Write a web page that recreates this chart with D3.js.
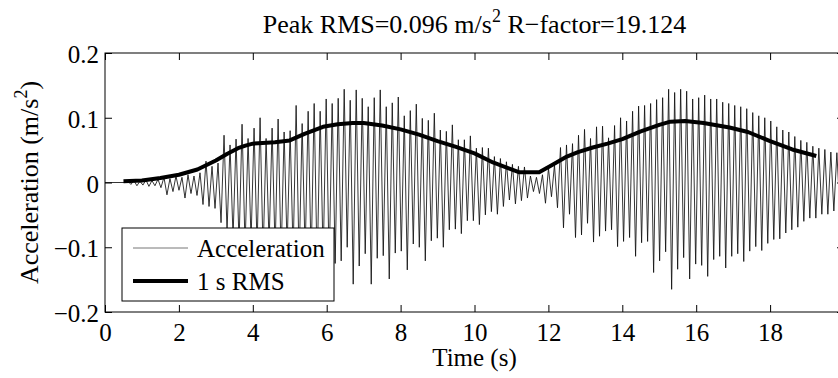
<!DOCTYPE html>
<html>
<head>
<meta charset="utf-8">
<script src="https://d3js.org/d3.v7.min.js"></script>
<style>
  body { margin: 0; background: #fff; }
  text { font-family: "Liberation Serif", "Times New Roman", serif; }
</style>
</head>
<body>
<svg id="chart" width="838" height="378"></svg>
<script>
// tick labels
var xTicks = [0, 2, 4, 6, 8, 10, 12, 14, 16, 18];
var xTickLabels = ["0", "2", "4", "6", "8", "10", "12", "14", "16", "18"];
var yTicks = [-0.2, -0.1, 0, 0.1, 0.2];
var yTickLabels = ["\u22120.2", "\u22120.1", "0", "0.1", "0.2"];

// acceleration: one positive and one negative peak per cycle
var accStart = 0.62;      // s, first cycle
var accPeriod = 0.1626;   // s, cycle length
var posPeaks = [
  0.002, 0.003, 0.002, 0.004, 0.003, 0.005, 0.008, 0.006, 0.010, 0.008,
  0.012, 0.010, 0.015, 0.033, 0.025, 0.030, 0.073, 0.058, 0.067, 0.090,
  0.068, 0.084, 0.100, 0.068, 0.084, 0.098, 0.078, 0.080, 0.119, 0.091,
  0.110, 0.122, 0.110, 0.129, 0.122, 0.130, 0.144, 0.127, 0.143, 0.130,
  0.117, 0.131, 0.143, 0.117, 0.123, 0.132, 0.103, 0.111, 0.121, 0.099,
  0.096, 0.107, 0.081, 0.079, 0.089, 0.066, 0.066, 0.072, 0.053, 0.054,
  0.053, 0.040, 0.037, 0.032, 0.028, 0.025, 0.024, 0.010, 0.008, 0.012,
  0.022, 0.027, 0.054, 0.058, 0.060, 0.073, 0.082, 0.068, 0.086, 0.087,
  0.069, 0.088, 0.100, 0.095, 0.110, 0.118, 0.119, 0.122, 0.128, 0.131,
  0.144, 0.139, 0.144, 0.141, 0.129, 0.131, 0.135, 0.129, 0.129, 0.124,
  0.122, 0.119, 0.117, 0.114, 0.108, 0.103, 0.100, 0.095, 0.086, 0.081,
  0.078, 0.071, 0.065, 0.062, 0.056, 0.053, 0.051, 0.047, 0.046
];
var negPeaks = [
  -0.003, -0.005, -0.004, -0.006, -0.005, -0.008, -0.019, -0.014, -0.012, -0.024,
  -0.017, -0.020, -0.034, -0.037, -0.040, -0.062, -0.075, -0.085, -0.095, -0.100,
  -0.090, -0.100, -0.110, -0.095, -0.105, -0.115, -0.100, -0.110, -0.125, -0.110,
  -0.120, -0.135, -0.120, -0.130, -0.125, -0.121, -0.100, -0.157, -0.129, -0.110,
  -0.157, -0.117, -0.113, -0.149, -0.109, -0.106, -0.135, -0.095, -0.100, -0.121,
  -0.090, -0.086, -0.100, -0.073, -0.072, -0.079, -0.059, -0.059, -0.065, -0.050,
  -0.045, -0.049, -0.037, -0.027, -0.033, -0.028, -0.024, -0.014, -0.017, -0.032,
  -0.022, -0.039, -0.070, -0.049, -0.085, -0.081, -0.063, -0.092, -0.083, -0.075,
  -0.073, -0.099, -0.091, -0.085, -0.114, -0.093, -0.091, -0.139, -0.121, -0.107,
  -0.165, -0.134, -0.116, -0.149, -0.126, -0.128, -0.145, -0.119, -0.114, -0.132,
  -0.114, -0.110, -0.122, -0.106, -0.099, -0.105, -0.094, -0.088, -0.087, -0.078,
  -0.073, -0.069, -0.060, -0.055, -0.055, -0.049, -0.049, -0.044, -0.042
];

// 1 s RMS
var rmsTime = [0.5, 1.0, 1.5, 2.0, 2.5, 3.0, 3.3, 3.6, 3.8, 4.0, 4.6, 5.0, 5.4, 5.9, 6.3,
  6.7, 7.0, 7.5, 8.0, 8.5, 9.0, 9.5, 10.0, 10.5, 11.2, 11.75, 12.1, 12.5, 12.8, 13.2,
  13.6, 14.0, 14.5, 15.0, 15.3, 15.7, 16.2, 16.9, 17.4, 18.0, 18.6, 19.25];
var rmsValue = [0.002, 0.003, 0.007, 0.012, 0.020, 0.034, 0.044, 0.053, 0.057, 0.060, 0.062, 0.065, 0.075, 0.086, 0.090,
  0.092, 0.092, 0.088, 0.082, 0.074, 0.064, 0.055, 0.045, 0.031, 0.016, 0.016, 0.027, 0.040, 0.047, 0.054,
  0.060, 0.067, 0.079, 0.089, 0.094, 0.095, 0.092, 0.085, 0.078, 0.064, 0.051, 0.041];

var svg = d3.select("#chart");
var x = d3.scaleLinear().domain([0, 20]).range([105, 844]);
var y = d3.scaleLinear().domain([-0.2, 0.2]).range([312, 53]);

svg.append("clipPath").attr("id", "plotclip")
  .append("rect")
  .attr("x", x(0)).attr("y", y(0.2))
  .attr("width", x(20) - x(0)).attr("height", y(-0.2) - y(0.2));

// build the acceleration trace
var accPoints = [[0, 0], [accStart - accPeriod / 2, 0]];
posPeaks.forEach(function(p, k) {
  var t = accStart + k * accPeriod;
  accPoints.push([t, p]);
  accPoints.push([t + accPeriod / 2, negPeaks[k]]);
});
var rmsPoints = rmsTime.map(function(t, i) { return [t, rmsValue[i]]; });

var line = d3.line()
  .x(function(d) { return x(d[0]); })
  .y(function(d) { return y(d[1]); });

var plot = svg.append("g").attr("clip-path", "url(#plotclip)");
plot.append("path")
  .attr("d", line(accPoints))
  .attr("fill", "none")
  .attr("stroke", "#111")
  .attr("stroke-width", 0.85);
plot.append("path")
  .attr("d", line(rmsPoints))
  .attr("fill", "none")
  .attr("stroke", "#000")
  .attr("stroke-width", 4)
  .attr("stroke-linejoin", "round");

// axes, ticks pointing inward on all four sides
function styleAxis(g) {
  g.attr("font-family", null).attr("font-size", null);
  g.select(".domain").remove();
  g.selectAll("line").attr("stroke", "#000");
  g.selectAll("text").attr("font-size", 25).attr("fill", "#000");
}
svg.append("g").attr("transform", "translate(0," + y(-0.2) + ")")
  .call(d3.axisBottom(x).tickValues(xTicks)
    .tickFormat(function(d, i) { return xTickLabels[i]; })
    .tickSizeInner(-7).tickSizeOuter(0).tickPadding(11))
  .call(styleAxis);
svg.append("g").attr("transform", "translate(0," + y(0.2) + ")")
  .call(d3.axisTop(x).tickValues(xTicks).tickFormat("")
    .tickSizeInner(-7).tickSizeOuter(0))
  .call(styleAxis);
svg.append("g").attr("transform", "translate(" + x(0) + ",0)")
  .call(d3.axisLeft(y).tickValues(yTicks)
    .tickFormat(function(d, i) { return yTickLabels[i]; })
    .tickSizeInner(-7).tickSizeOuter(0).tickPadding(6))
  .call(styleAxis)
  .selectAll("text").attr("dy", "0.38em");
svg.append("g").attr("transform", "translate(" + x(20) + ",0)")
  .call(d3.axisRight(y).tickValues(yTicks).tickFormat("")
    .tickSizeInner(-7).tickSizeOuter(0))
  .call(styleAxis);

svg.append("rect")
  .attr("x", x(0)).attr("y", y(0.2))
  .attr("width", x(20) - x(0)).attr("height", y(-0.2) - y(0.2))
  .attr("fill", "none").attr("stroke", "#000").attr("stroke-width", 1);

// labels
var title = svg.append("text")
  .attr("x", (x(0) + x(20)) / 2).attr("y", 33)
  .attr("text-anchor", "middle").attr("font-size", 26);
title.append("tspan").text("Peak RMS=0.096 m/s");
title.append("tspan").attr("dy", -11).attr("font-size", 18).text("2");
title.append("tspan").attr("dy", 11).text(" R\u2212factor=19.124");

svg.append("text")
  .attr("x", (x(0) + x(20)) / 2).attr("y", 366)
  .attr("text-anchor", "middle").attr("font-size", 25)
  .text("Time (s)");

var ylab = svg.append("text")
  .attr("transform", "translate(38," + (y(0.2) + y(-0.2)) / 2 + ") rotate(-90)")
  .attr("text-anchor", "middle").attr("font-size", 26);
ylab.append("tspan").text("Acceleration (m/s");
ylab.append("tspan").attr("dy", -11).attr("font-size", 18).text("2");
ylab.append("tspan").attr("dy", 11).text(")");

// legend
var legendNames = ["Acceleration", "1 s RMS"];
var legend = svg.append("g");
legend.append("rect")
  .attr("x", 122).attr("y", 228).attr("width", 212).attr("height", 73)
  .attr("fill", "#fff").attr("stroke", "#000").attr("stroke-width", 1);
legend.selectAll("line.item").data(legendNames).enter().append("line")
  .attr("x1", 133).attr("x2", 188)
  .attr("y1", function(d, i) { return 248 + i * 33; })
  .attr("y2", function(d, i) { return 248 + i * 33; })
  .attr("stroke", function(d, i) { return i ? "#000" : "#777"; })
  .attr("stroke-width", function(d, i) { return i ? 4 : 1; });
legend.selectAll("text.item").data(legendNames).enter().append("text")
  .attr("x", 197)
  .attr("y", function(d, i) { return 257 + i * 33; })
  .attr("font-size", 25)
  .text(function(d) { return d; });
</script>
</body>
</html>
